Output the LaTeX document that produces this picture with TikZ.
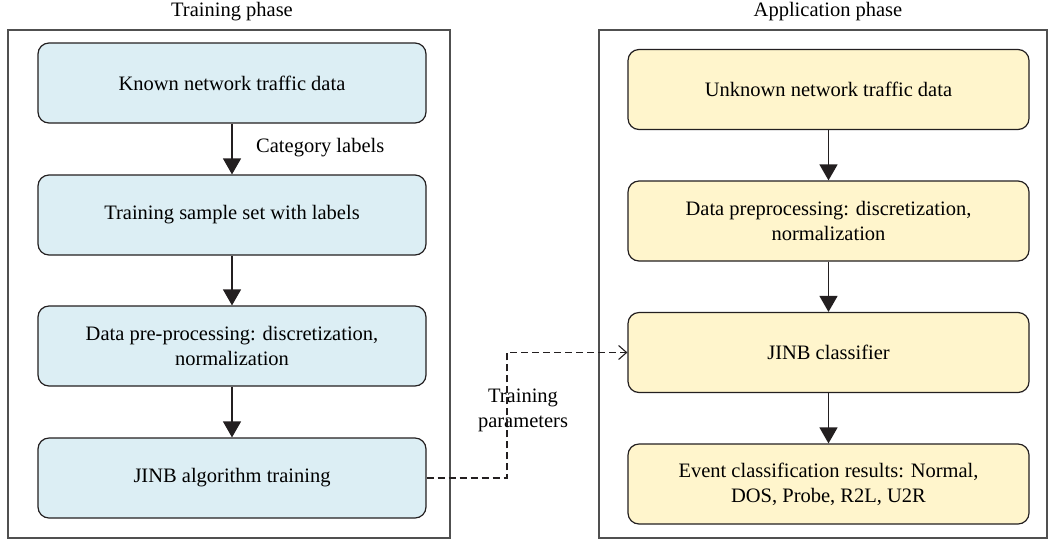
\documentclass[tikz,border=0pt]{standalone}
\usepackage{fontspec}
\setmainfont{Liberation Serif}
\usetikzlibrary{arrows.meta}
\definecolor{bluefill}{RGB}{220,238,244}
\definecolor{yelfill}{RGB}{255,245,204}
\definecolor{edge}{RGB}{35,31,32}
\definecolor{framec}{RGB}{80,80,80}
\begin{document}
\begin{tikzpicture}[x=1pt,y=-1pt,
  box/.style={draw=edge,line width=1.2pt,rounded corners=11pt,minimum width=388pt,minimum height=80pt,align=center,inner sep=0pt,font=\fontsize{20.5}{25}\selectfont},
  bbox/.style={box,fill=bluefill},
  ybox/.style={box,fill=yelfill,minimum width=401pt},
  frame/.style={draw=framec,line width=1.2pt},
  lbl/.style={font=\fontsize{20.5}{25}\selectfont,inner sep=0pt,align=center},
  flow/.style={draw=edge,line width=1.3pt,-{Triangle[width=18pt,length=16pt]}},
  dflow/.style={draw=edge,line width=1.1pt,dash pattern=on 7pt off 4pt,-{Straight Barb[width=14pt,length=8pt,line width=1.1pt]}}]
\useasboundingbox (0,0) rectangle (1048,542);
\draw[frame] (8,30) rectangle (450,538);
\draw[frame] (599,30) rectangle (1047,538);
\node[lbl] (tl) at (232,12) {Training phase};
\node[lbl] (tr) at (828,12) {Application phase};
\node[bbox] (l1) at (232,83) {Known network traffic data};
\node[bbox] (l2) at (232,215) {Training sample set with labels};
\node[bbox] (l3) at (232,346) {Data pre-processing: discretization,\\normalization};
\node[bbox] (l4) at (232,478) {JINB algorithm training};
\node[ybox] (r1) at (828.5,89.5) {Unknown network traffic data};
\node[ybox] (r2) at (828.5,221) {Data preprocessing: discretization,\\normalization};
\node[ybox] (r3) at (828.5,352.5) {JINB classifier};
\node[ybox] (r4) at (828.5,484) {Event classification results: Normal,\\DOS, Probe, R2L, U2R};
\draw[flow] (l1) -- (l2);
\draw[flow] (l2) -- (l3);
\draw[flow] (l3) -- (l4);
\draw[flow] (r1) -- (r2);
\draw[flow] (r2) -- (r3);
\draw[flow] (r3) -- (r4);
\node[lbl,anchor=west] (cat) at (256,148) {Category labels};
\node[lbl] (tp) at (523,410) {Training\\parameters};
\coordinate (bend) at (507,478);
\draw[dflow] (l4.east) -- (bend) |- (r3.west);
\end{tikzpicture}
\end{document}
